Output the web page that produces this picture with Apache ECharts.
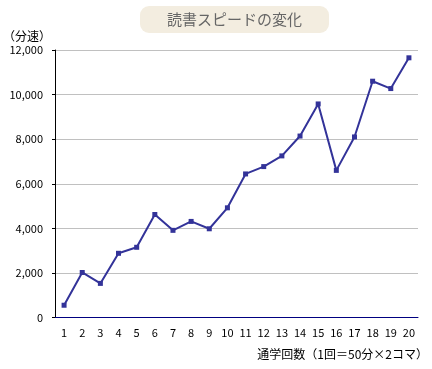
<!DOCTYPE html>
<html><head><meta charset="utf-8">
<script src="https://cdn.jsdelivr.net/npm/echarts@6/dist/echarts.min.js"></script>
<style>html,body{margin:0;padding:0;background:#fff}#c{width:432px;height:369px}</style>
</head><body><div id="c"></div>
<script>
const categories = ['1','2','3','4','5','6','7','8','9','10','11','12','13','14','15','16','17','18','19','20'];
const speeds = [550, 2020, 1530, 2880, 3150, 4620, 3910, 4310, 3980, 4920, 6440, 6770, 7250, 8140, 9580, 6600, 8100, 10600, 10270, 11650];
const yTicks = [0, 2000, 4000, 6000, 8000, 10000, 12000];
const titleText = '読書スピードの変化';
const yName = '（分速）';
const xName = '通学回数（1回＝50分×2コマ）';

const font = '"Noto Sans CJK JP", "DejaVu Sans", sans-serif';
const chart = echarts.init(document.getElementById('c'));
chart.setOption({
  animation: false,
  title: {
    text: titleText, left: 140, top: 6,
    backgroundColor: '#F3EDE0', borderRadius: 9,
    padding: [6, 27, 6, 27],
    textStyle: { color: '#666', fontSize: 15, fontWeight: 'normal', fontFamily: font }
  },
  grid: { left: 55, right: 14, top: 50, bottom: 51.5 },
  xAxis: {
    type: 'category', data: categories, boundaryGap: true,
    axisLine: { lineStyle: { color: '#000080', width: 1 } },
    axisTick: { inside: true, length: 3, lineStyle: { color: '#000' } },
    axisLabel: { color: '#000', fontSize: 11, margin: 10, fontFamily: font }
  },
  yAxis: {
    type: 'value', min: yTicks[0], max: yTicks[yTicks.length - 1], interval: 2000,
    name: yName, nameLocation: 'end', nameGap: 8,
    nameTextStyle: { color: '#000', fontSize: 12, align: 'right', padding: [0, 4, 0, 0], fontFamily: font },
    axisLine: { show: true, lineStyle: { color: '#000' } },
    axisTick: { show: true, length: 3, lineStyle: { color: '#000' } },
    axisLabel: { color: '#000', fontSize: 11, margin: 12, fontFamily: font,
      formatter: v => v.toLocaleString('en-US') },
    splitLine: { lineStyle: { color: '#C0C0C0' } }
  },
  graphic: [{
    type: 'text', right: 4, top: 348,
    style: { text: xName, fill: '#000', fontSize: 12, fontFamily: font }
  }],
  series: [{
    type: 'line', data: speeds,
    symbol: 'rect', symbolSize: 5,
    lineStyle: { color: '#333399', width: 2 },
    itemStyle: { color: '#333399' }
  }]
});
</script></body></html>
